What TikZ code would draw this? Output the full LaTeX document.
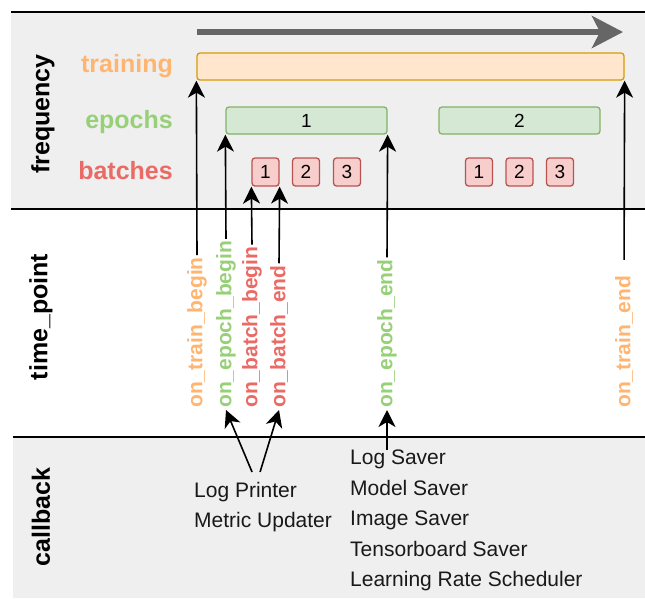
\documentclass[tikz,border=0pt]{standalone}
\usepackage{fontspec}
\setsansfont{Liberation Sans}
\usetikzlibrary{arrows.meta,positioning,calc}

\definecolor{trainc}{HTML}{FFB570}
\definecolor{trainfill}{HTML}{FFE6CC}
\definecolor{traindraw}{HTML}{D79B00}
\definecolor{epochc}{HTML}{97D077}
\definecolor{epochfill}{HTML}{D5E8D4}
\definecolor{epochdraw}{HTML}{82B366}
\definecolor{batchc}{HTML}{EA6B66}
\definecolor{batchfill}{HTML}{F8CECC}
\definecolor{batchdraw}{HTML}{B85450}
\definecolor{panelgray}{HTML}{EFEFEF}
\definecolor{flowgray}{HTML}{666666}

\begin{document}
\begin{tikzpicture}[
  font=\sffamily,
  x=1pt, y=-1pt,
  panel/.style={fill=panelgray, draw=none},
  sep/.style={line width=1.6pt},
  side/.style={rotate=90, inner sep=0pt, font=\sffamily\bfseries\fontsize{25}{30}\selectfont},
  level/.style={anchor=east, inner sep=0pt, font=\sffamily\bfseries\fontsize{25}{30}\selectfont},
  bar/.style={draw, rounded corners=3pt, line width=1.3pt, minimum height=27pt, inner sep=0pt, font=\sffamily\fontsize{19}{22}\selectfont},
  trainbar/.style={bar, fill=trainfill, draw=traindraw, minimum width=427pt},
  epochbar/.style={bar, fill=epochfill, draw=epochdraw, minimum width=161pt},
  batchbox/.style={bar, fill=batchfill, draw=batchdraw, minimum width=27pt, minimum height=28pt},
  tpoint/.style={rotate=90, anchor=west, inner sep=2pt, font=\sffamily\bfseries\fontsize{21}{25}\selectfont},
  cbtext/.style={anchor=north west, inner sep=0pt, align=left, text=black!90, font=\sffamily\fontsize{21}{30.4}\selectfont},
  arrow/.style={-{Stealth[length=17pt, width=17pt, inset=5pt]}, line width=1.6pt},
  flow/.style={-{Stealth[length=31pt, width=32pt, inset=8pt]}, line width=6pt, draw=flowgray}
]
\useasboundingbox (0,0) rectangle (645,598);

% panels
\fill[panel] (11,12) rectangle (645,209);
\fill[panel] (13,437) rectangle (645,598);
\draw[sep] (11,12) -- (645,12);
\draw[sep] (11,209) -- (645,209);
\draw[sep] (13,437) -- (645,437);

\node[side] (freq) at (43,114) {frequency};
\node[side] (tpt) at (41,317) {time\_point};
\node[side] (cbk) at (41,517) {callback};

% time flow
\coordinate (flowstart) at (197,32);
\coordinate (flowend) at (623,32);
\draw[flow] (flowstart) -- (flowend);

% frequency rows
\node[level, text=trainc] (trl) at (173,66) {training};
\node[level, text=epochc] (epl) at (173,122) {epochs};
\node[level, text=batchc] (bal) at (173,171) {batches};

\node[trainbar] (train) at (410.5,66.5) {};
\node[epochbar] (ep1) at (306.5,120.5) {1};
\node[epochbar] (ep2) at (519.5,120.5) {2};
\node[batchbox] (b11) at (265.5,172) {1};
\node[batchbox] (b12) at (306,172) {2};
\node[batchbox] (b13) at (347,172) {3};
\node[batchbox] (b21) at (479,172) {1};
\node[batchbox] (b22) at (519.5,172) {2};
\node[batchbox] (b23) at (560,172) {3};

% time points
\node[tpoint, text=trainc] (tb) at (197,410) {on\_train\_begin};
\node[tpoint, text=epochc] (eb) at (226,410) {on\_epoch\_begin};
\node[tpoint, text=batchc] (bb) at (252,410) {on\_batch\_begin};
\node[tpoint, text=batchc] (be) at (279,410) {on\_batch\_end};
\node[tpoint, text=epochc] (ee) at (387,410) {on\_epoch\_end};
\node[tpoint, text=trainc] (te) at (624,410) {on\_train\_end};

\draw[arrow] (tb.east) -- (train.south west);
\draw[arrow] (eb.east) -- (ep1.south west);
\draw[arrow] (bb.east) -- (b11.south west);
\draw[arrow] (be.east) -- (b11.south east);
\draw[arrow] (ee.east) -- (ep1.south east);
\draw[arrow, shorten <=14pt] (te.east) -- (train.south east);

% callbacks
\node[cbtext] (printer) at (194,482) {Log Printer\\Metric Updater};
\node[cbtext] (saver) at (350,450) {Log Saver\\Model Saver\\Image Saver\\Tensorboard Saver\\Learning Rate Scheduler};

\draw[arrow] ([xshift=-11pt, yshift=10pt]printer.north) -- (eb.west);
\draw[arrow] ([xshift=-3pt, yshift=10pt]printer.north) -- (be.west);
\draw[arrow] (saver.north -| ee.west) -- (ee.west);
\end{tikzpicture}
\end{document}
